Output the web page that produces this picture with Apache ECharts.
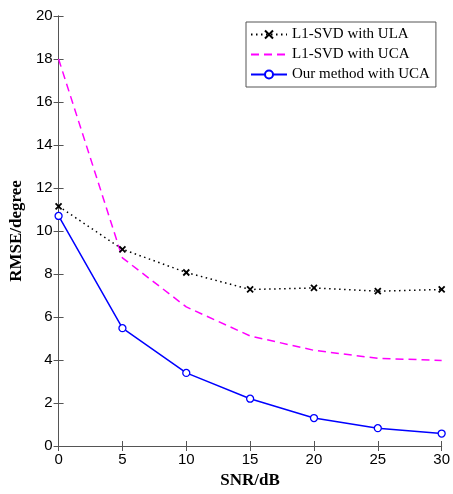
<!DOCTYPE html>
<html><head><meta charset="utf-8">
<script src="https://cdn.jsdelivr.net/npm/echarts@6/dist/echarts.min.js"></script>
<style>html,body{margin:0;padding:0;background:#fff}#c{width:453px;height:494px}</style>
</head><body><div id="c"></div>
<script>
var snr = [0, 5, 10, 15, 20, 25, 30];
var ulaSvd = [11.15, 9.15, 8.07, 7.28, 7.35, 7.2, 7.28];
var ucaSvd = [18.0, 8.75, 6.47, 5.12, 4.45, 4.08, 3.98];
var ourUca = [10.7, 5.48, 3.4, 2.2, 1.3, 0.83, 0.58];
var names = ['L1-SVD with ULA', 'L1-SVD with UCA', 'Our method with UCA'];

function pairs(v){ return snr.map(function(x,i){ return [x, v[i]]; }); }

var chart = echarts.init(document.getElementById('c'));
var axisLine = {show:true, lineStyle:{color:'#555', width:1}};
var tickFont = {fontFamily:'Liberation Sans, Arial', fontSize:15, color:'#000'};
chart.setOption({
  animation:false,
  backgroundColor:'#fff',
  grid:{left:56, right:8, top:16, bottom:42, containLabel:false},
  legend:{
    left:246, top:22, orient:'vertical', itemGap:5, itemWidth:36, itemHeight:10,
    padding:[5,6,5,4],
    backgroundColor:'#fff', borderColor:'#555', borderWidth:1,
    textStyle:{fontFamily:'Liberation Serif, Times New Roman', fontSize:15, color:'#000'},
    data:[{name:names[0]}, {name:names[1], itemStyle:{opacity:0}}, {name:names[2]}]
  },
  xAxis:[{
    type:'value', min:0, max:30, interval:5,
    name:'SNR/dB', nameLocation:'middle', nameGap:26,
    nameTextStyle:{fontFamily:'Liberation Serif', fontSize:17, fontWeight:'bold', color:'#000'},
    axisLine:axisLine, axisTick:{inside:true, length:5, lineStyle:{color:'#555'}},
    axisLabel:Object.assign({margin:6}, tickFont), splitLine:{show:false}
  },{
    type:'value', position:'top', min:0, max:30, interval:5,
    axisLine:axisLine, axisTick:{inside:true, length:5, lineStyle:{color:'#555'}},
    axisLabel:{show:false}, splitLine:{show:false}
  }],
  yAxis:[{
    type:'value', min:0, max:20, interval:2,
    name:'RMSE/degree', nameLocation:'middle', nameGap:28,
    nameTextStyle:{fontFamily:'Liberation Serif', fontSize:17, fontWeight:'bold', color:'#000'},
    axisLine:axisLine, axisTick:{inside:true, length:5, lineStyle:{color:'#555'}},
    axisLabel:Object.assign({margin:6}, tickFont), splitLine:{show:false}
  },{
    type:'value', position:'right', min:0, max:20, interval:2,
    axisLine:axisLine, axisTick:{inside:true, length:5, lineStyle:{color:'#555'}},
    axisLabel:{show:false}, splitLine:{show:false}
  }],
  series:[{
    name:names[0], type:'line', data:pairs(ulaSvd),
    symbol:'path://M0,0L10,10M10,0L0,10', symbolSize:6,
    lineStyle:{color:'#000', width:1.5, type:[1.5,3.5]},
    itemStyle:{color:'#000', borderColor:'#000', borderWidth:1.8}
  },{
    name:names[1], type:'line', data:pairs(ucaSvd), symbol:'none',
    lineStyle:{color:'#ff00ff', width:1.5, type:[8,5]},
    itemStyle:{color:'#ff00ff'}
  },{
    name:names[2], type:'line', data:pairs(ourUca),
    symbol:'circle', symbolSize:7, showSymbol:true,
    lineStyle:{color:'#0000ff', width:1.5},
    itemStyle:{color:'#fff', borderColor:'#0000ff', borderWidth:1.3}
  }]
});
</script></body></html>
